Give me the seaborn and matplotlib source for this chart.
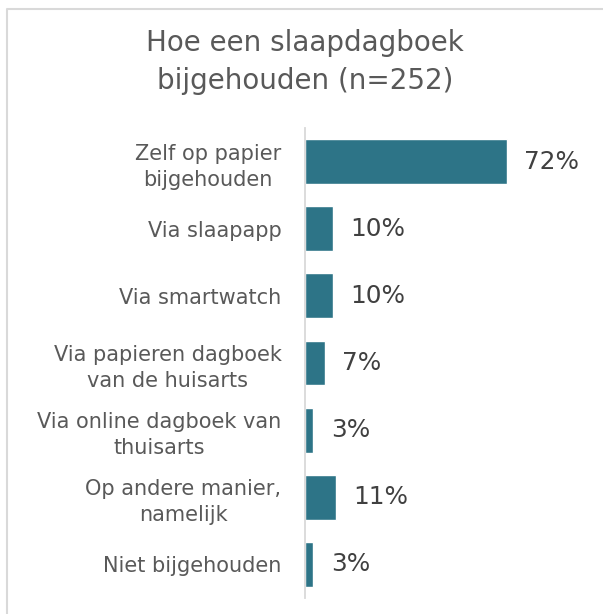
import matplotlib
matplotlib.use("Agg")
import matplotlib.pyplot as plt
import seaborn as sns
import pandas as pd
from matplotlib.lines import Line2D

categories = [
    "Zelf op papier\nbijgehouden",
    "Via slaapapp",
    "Via smartwatch",
    "Via papieren dagboek\nvan de huisarts",
    "Via online dagboek van\nthuisarts",
    "Op andere manier,\nnamelijk",
    "Niet bijgehouden",
]
values = [72, 10, 10, 7, 3, 11, 3]
value_labels = ["72%", "10%", "10%", "7%", "3%", "11%", "3%"]
title = "Hoe een slaapdagboek\nbijgehouden (n=252)"

df = pd.DataFrame({"cat": categories, "val": values})

sns.set_theme(style="white")
plt.rcParams["font.family"] = ["DejaVu Sans"]

W, H = 603, 614
fig = plt.figure(figsize=(W / 100, H / 100), dpi=100)
ax = fig.add_axes([305 / W, 1 - 598 / H, 280 / W, 470 / H])

bar_color = "#2D7487"
sns.barplot(data=df, x="val", y="cat", color=bar_color, width=0.67,
            saturation=1, ax=ax, orient="h")

ax.set_xlim(0, 100)
ax.set_ylim(len(categories) - 0.5, -0.5)
ax.set_xlabel("")
ax.set_ylabel("")
ax.set_xticks([])

for i, (v, lab) in enumerate(zip(values, value_labels)):
    ax.annotate(lab, xy=(v, i), xytext=(12.5, 0), textcoords="offset points",
                ha="left", va="center", fontsize=17.8, color="#404040")

for s in ["top", "right", "bottom"]:
    ax.spines[s].set_visible(False)
ax.spines["left"].set_color("#D9D9D9")
ax.spines["left"].set_linewidth(1.3)

ax.tick_params(axis="y", length=0, pad=17, labelsize=15, labelcolor="#595959")
for t in ax.get_yticklabels():
    t.set_multialignment("center")
    t.set_linespacing(1.38)

fig.text(305 / W, 1 - 62 / H, title, ha="center", va="center",
         fontsize=20, color="#595959", linespacing=1.46)

# chart-area border (top and left visible)
fig.add_artist(Line2D([7 / W, 7 / W, 1.0], [0.0, 1 - 9 / H, 1 - 9 / H],
                      transform=fig.transFigure, color="#D9D9D9", lw=1.5))

fig.savefig("out.png", dpi=100)
